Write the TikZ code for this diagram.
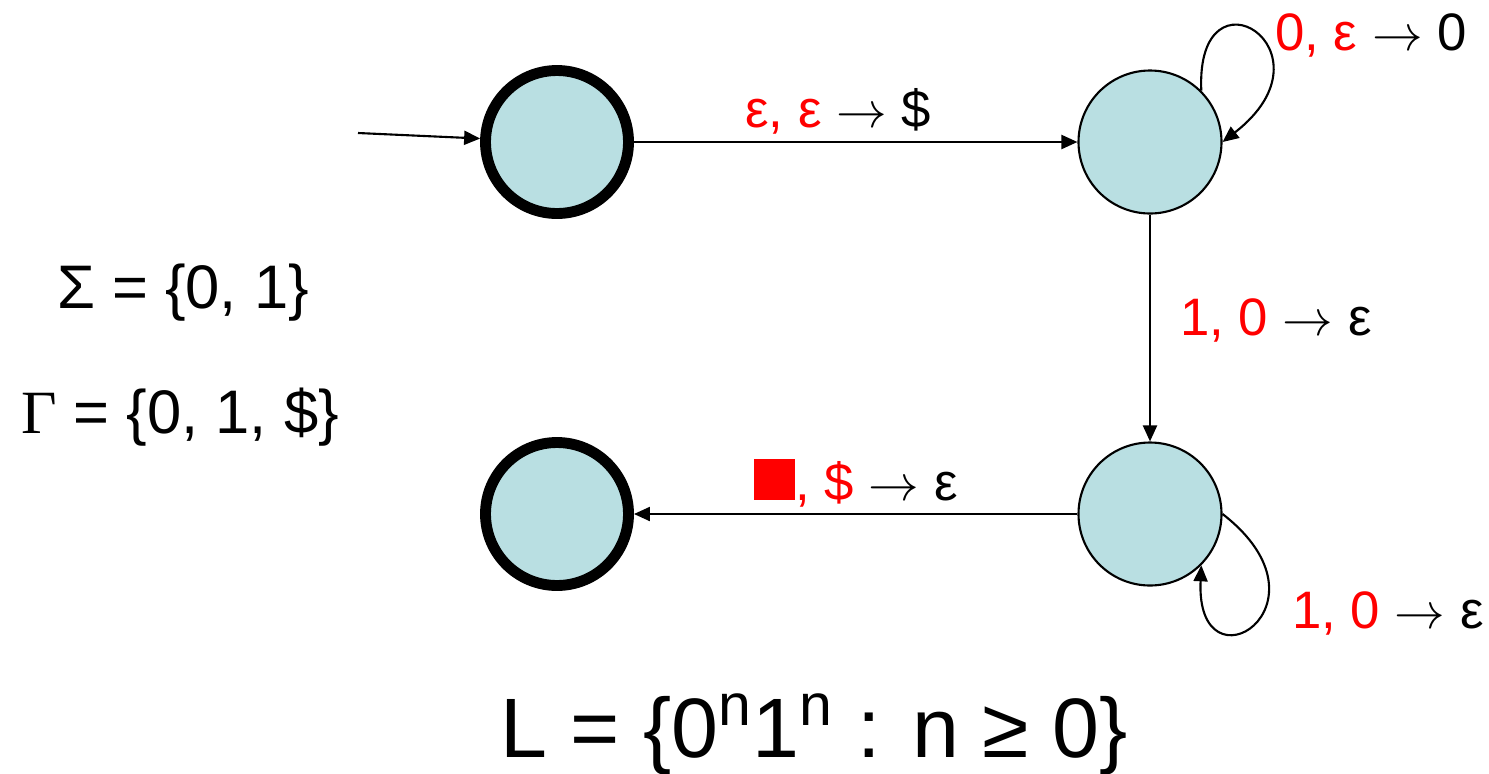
\documentclass[tikz,border=0pt]{standalone}
\usepackage{fontspec}
\setmainfont{Liberation Sans}
\newfontfamily\seriffont{Liberation Serif}
\usetikzlibrary{arrows.meta,positioning}
\definecolor{statefill}{HTML}{B9DFE2}
\definecolor{inputred}{HTML}{FF0000}
\newcommand{\rdtext}[1]{\textcolor{inputred}{#1}}

\begin{document}
\begin{tikzpicture}[
      state/.style={circle, draw, fill=statefill, minimum size=1.43cm, inner sep=0pt,
                    line width=0.6pt},
      endstate/.style={state, line width=3.1pt},
      arr/.style={-{Triangle[length=0.16cm,width=0.14cm]}, line width=0.6pt},
      translabel/.style={font=\fontsize{15}{18}\selectfont, anchor=base, inner sep=0pt},
      alphabet/.style={font=\fontsize{17.5}{20}\selectfont, anchor=base, inner sep=0pt},
      language/.style={font=\fontsize{24}{29}\selectfont, anchor=base, inner sep=0pt}
    ]
      \useasboundingbox (0,0) rectangle (14.89,-7.73);

      % States
      \node[endstate] (q0) at (5.57, -1.42) {};
      \node[state] (q1) at (11.50, -1.42) {};
      \node[state] (q2) at (11.50, -5.14) {};
      \node[endstate] (q3) at (5.57, -5.14) {};
      \coordinate (start) at (3.58, -1.33);

      % Transitions
      \draw[arr] (start) -- (q0);
      \draw[arr] (q0) -- (q1);
      \draw[arr] (q1) -- (q2);
      \draw[arr] (q2) -- (q3);
      \draw[arr] (q1.45) .. controls +(-0.06, 1.31) and +(1.185, 0.92) .. (q1.east);
      \draw[arr] (q2.east) .. controls +(1.185, -0.92) and +(-0.06, -1.31) .. (q2.-45);

      % Transition labels
      \node[translabel] (push) at (8.38, -1.27) {\rdtext{ε, ε} $\rightarrow$ \$};
      \node[translabel] (readzero) at (13.71, -0.50) {\rdtext{0, ε} $\rightarrow$ 0};
      \node[translabel] (firstone) at (12.76, -3.35) {\rdtext{1, 0} $\rightarrow$ ε};
      \node[translabel] (readone) at (13.88, -6.28) {\rdtext{1, 0} $\rightarrow$ ε};
      \node[translabel] (pop) at (8.56, -5.00) {\rdtext{\rule{0.41cm}{0.41cm}, \$} $\rightarrow$ ε};

      % Alphabets and language
      \node[alphabet] (sigma) at (1.83, -3.08) {Σ = \{0, 1\}};
      \node[alphabet] (gamma) at (1.80, -4.33) {{\seriffont Γ} = \{0, 1, \$\}};
      \node[language] (lang) at (8.14, -7.57) {L = \{0\textsuperscript{n}1\textsuperscript{n} : n ≥ 0\}};
    \end{tikzpicture}
\end{document}
